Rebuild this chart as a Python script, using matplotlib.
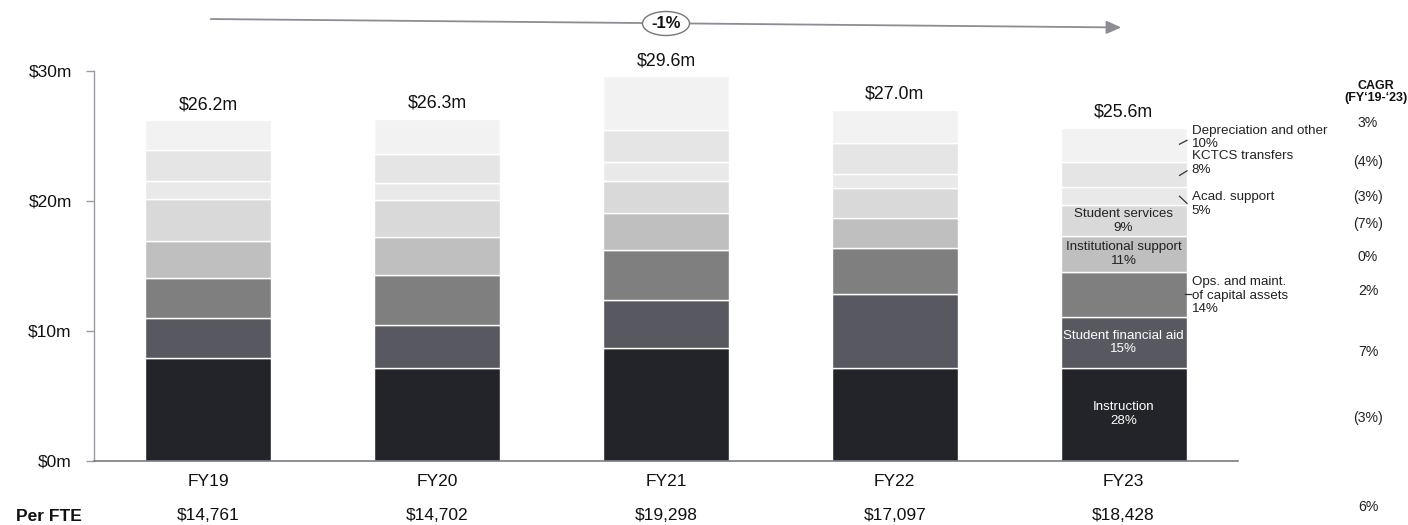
import matplotlib
matplotlib.use("Agg")
import matplotlib.pyplot as plt
from matplotlib.patches import Ellipse
from matplotlib.transforms import blended_transform_factory
import numpy as np

plt.rcParams['font.family'] = ['Liberation Sans', 'DejaVu Sans']

# ---------------- data ----------------
years = ["FY19", "FY20", "FY21", "FY22", "FY23"]
categories = ["Instruction", "Student financial aid", "Ops. and maint.\nof capital assets",
              "Institutional support", "Student services", "Acad. support",
              "KCTCS transfers", "Depreciation and other"]
instruction = [7.95, 7.13, 8.72, 7.13, 7.18]
student_aid = [3.05, 3.33, 3.66, 5.69, 3.87]
ops_maint = [3.10, 3.80, 3.85, 3.54, 3.51]
inst_support = [2.82, 2.95, 2.82, 2.31, 2.75]
student_services = [3.18, 2.82, 2.49, 2.30, 2.33]
acad_support = [1.44, 1.35, 1.43, 1.08, 1.39]
kctcs = [2.38, 2.21, 2.47, 2.39, 1.92]
depreciation = [2.28, 2.71, 4.13, 2.56, 2.65]
totals = [26.2, 26.3, 29.6, 27.0, 25.6]
fy23_share = ["28%", "15%", "14%", "11%", "9%", "5%", "8%", "10%"]
cagr = ["(3%)", "7%", "2%", "0%", "(7%)", "(3%)", "(4%)", "3%"]
per_fte = ["$14,761", "$14,702", "$19,298", "$17,097", "$18,428"]
per_fte_cagr = "6%"
overall_cagr = "-1%"
yticks = [0, 10, 20, 30]
ytick_labels = ["$0m", "$10m", "$20m", "$30m"]

series = [instruction, student_aid, ops_maint, inst_support,
          student_services, acad_support, kctcs, depreciation]
colors = ["#232429", "#585860", "#7f7f7f", "#bfbfbf",
          "#d9d9d9", "#e9e9e9", "#e5e5e5", "#f2f2f2"]

W, H = 1408, 525
fig = plt.figure(figsize=(W / 100, H / 100), dpi=100)


def fx(px):
    return px / W


def fy(py):
    return 1 - py / H


ax = fig.add_axes([fx(94), fy(461), fx(1238) - fx(94), fy(70.7) - fy(461)])

x = np.arange(len(years))
bw = 0.55
bottom = np.zeros(len(years))
seg_bounds = []
for vals, col in zip(series, colors):
    v = np.array(vals)
    ax.bar(x, v, bw, bottom=bottom, color=col, edgecolor="white", linewidth=1.0, zorder=2)
    seg_bounds.append((bottom.copy(), bottom + v))
    bottom = bottom + v

ax.set_xlim(-0.5, 4.5)
ax.set_ylim(0, 30)
ax.set_yticks(yticks)
ax.set_yticklabels(ytick_labels, fontsize=12.5, color="#111111")
ax.set_xticks(x)
ax.set_xticklabels(years, fontsize=12.5, color="#111111")
ax.tick_params(axis="x", length=0, pad=9)
ax.tick_params(axis="y", length=6, color="#9a9aa6", width=1, pad=10)
for s in ["top", "right"]:
    ax.spines[s].set_visible(False)
ax.spines["left"].set_color("#9a9aa6")
ax.spines["bottom"].set_color("#7a7a85")
ax.spines["left"].set_linewidth(1.0)
ax.spines["bottom"].set_linewidth(1.2)

# totals
for i, t in enumerate(totals):
    ax.annotate(f"${t:.1f}m", (x[i], bottom[i]), xytext=(0, 5), textcoords="offset points",
                ha="center", va="bottom", fontsize=12.8, color="#111111", annotation_clip=False)

# FY23 labels
last = len(years) - 1
inside = {0: "white", 1: "white", 3: "#222222", 4: "#222222"}
for k, c in inside.items():
    lo, hi = seg_bounds[k][0][last], seg_bounds[k][1][last]
    ax.text(x[last], (lo + hi) / 2, f"{categories[k]}\n{fy23_share[k]}", ha="center", va="center",
            fontsize=9.6, color=c, linespacing=1.2, zorder=3)

bar_right = x[last] + bw / 2
px_per_unit = (1238 - 94) / 5.0
tx = bar_right + 5 / px_per_unit
# outside labels: category index -> (label y, leader start y, leader end y)
outside = {7: (24.85, 24.35, 24.65), 6: (22.9, 21.95, 22.3), 5: (19.75, 20.35, 19.8), 2: (12.72, 12.8, 12.8)}
for k, (ly, y0, y1) in outside.items():
    ax.text(tx, ly, f"{categories[k]}\n{fy23_share[k]}", ha="left", va="center",
            fontsize=9.6, color="#222222", linespacing=1.15, zorder=3)
    x0 = bar_right - 7 / px_per_unit
    x1 = bar_right + 0.5 / px_per_unit
    if k == 2:
        x0 = bar_right - 2 / px_per_unit
        x1 = bar_right + 4 / px_per_unit
    ax.plot([x0, x1], [y0, y1], color="#333333", lw=0.9, zorder=4, clip_on=False)

# CAGR column
trans = blended_transform_factory(fig.transFigure, ax.transData)
cagr_y = [3.3, 8.4, 13.1, 15.7, 18.2, 20.3, 23.0, 26.0]
for v, yy in zip(cagr, cagr_y):
    ax.text(fx(1368), yy, v, transform=trans, ha="center", va="center", fontsize=10.2, color="#222222")
fig.text(fx(1376), fy(86), "CAGR", ha="center", va="center", fontsize=9, fontweight="bold", color="#111111")
fig.text(fx(1376), fy(98), "(FY\u201819-\u201823)", ha="center", va="center", fontsize=9,
         fontweight="bold", color="#111111")

# Per FTE row
transx = blended_transform_factory(ax.transData, fig.transFigure)
for i, v in enumerate(per_fte):
    ax.text(x[i], fy(515.5), v, transform=transx, ha="center", va="center", fontsize=12.5, color="#111111")
fig.text(fx(16), fy(516.5), "Per FTE", ha="left", va="center", fontsize=12.5, fontweight="bold", color="#111111")
fig.text(fx(1368), fy(507), per_fte_cagr, ha="center", va="center", fontsize=10.2, color="#222222")

# top arrow with overall CAGR
fig.add_artist(matplotlib.patches.FancyArrowPatch(
    (fx(208), fy(19)), (fx(1124), fy(27.5)), transform=fig.transFigure,
    arrowstyle="-|>,head_length=9,head_width=4", color="#8c8c96", lw=1.3, mutation_scale=1))
ell = Ellipse((fx(666), fy(23.5)), fx(47), 24 / H, transform=fig.transFigure,
              facecolor="white", edgecolor="#777777", lw=1.0, zorder=5)
fig.add_artist(ell)
fig.text(fx(666), fy(23.5), overall_cagr, ha="center", va="center", fontsize=12, fontweight="bold",
         color="#111111", zorder=6)

fig.savefig("out.png", dpi=100, facecolor="white")
